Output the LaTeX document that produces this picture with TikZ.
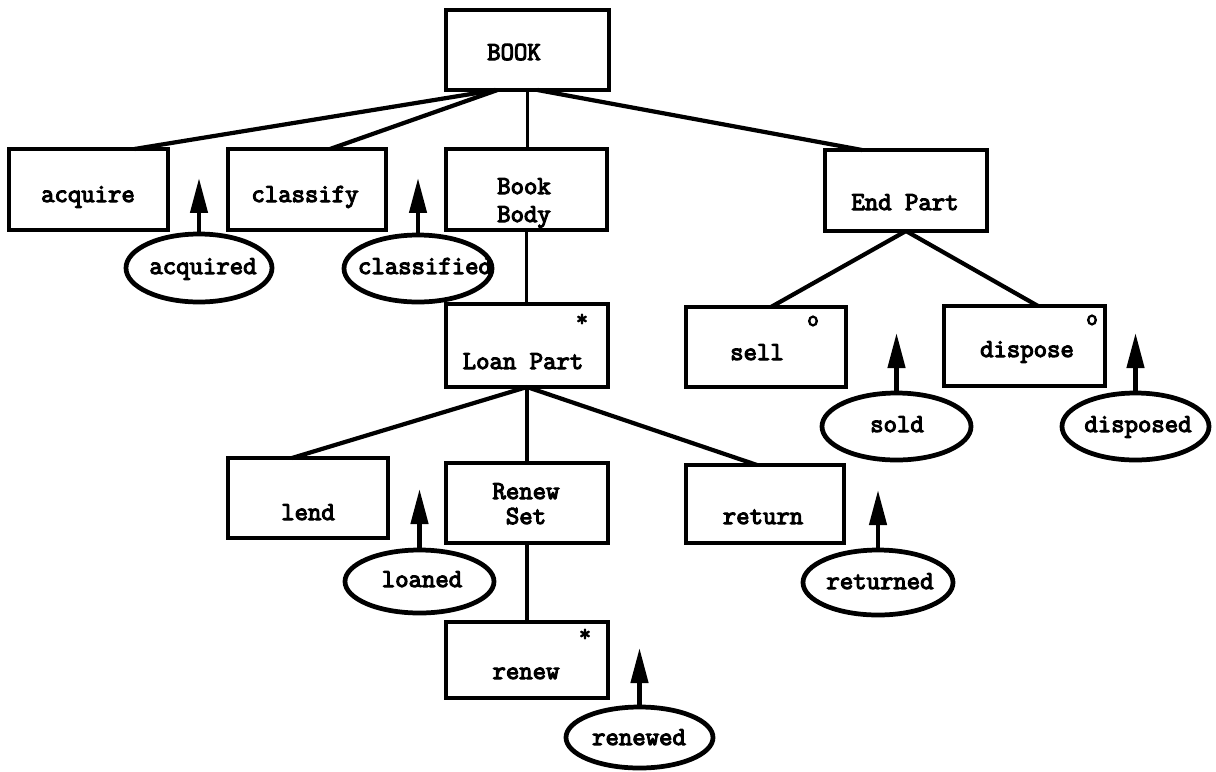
\documentclass[tikz,border=0pt]{standalone}
\usepackage{fontspec}
\setmonofont{Latin Modern Mono}[AutoFakeBold=4.2]
\usetikzlibrary{arrows.meta,calc,shapes.geometric}
\begin{document}
\begin{tikzpicture}[x=0.02cm,y=-0.02cm,
  font=\ttfamily\bfseries\fontsize{14.8}{16}\selectfont,
  box/.style 2 args={draw, line width=1.9pt, inner sep=0pt, outer sep=0pt,
    minimum width=#1*0.02cm, minimum height=#2*0.02cm},
  event/.style 2 args={draw, ellipse, line width=2.7pt, inner sep=0pt, outer sep=0pt,
    minimum width=#1*0.02cm, minimum height=#2*0.02cm},
  lbl/.style={anchor=base, inner sep=0pt},
  cornermark/.style={inner sep=0pt, font=\ttfamily\bfseries\fontsize{13}{13}\selectfont},
  link/.style={line width=2.4pt},
  vlink/.style={line width=1.8pt},
  evarrow/.style={line width=2.5pt, -{Triangle[length=0.7cm, width=0.34cm]}}
]
\useasboundingbox (0,0) rectangle (1216,771);

% structure boxes
\node[box={163}{80}] (book)     at (527.5,50)  {};
\node[box={159}{81}] (acquire)  at (88.5,189.5) {};
\node[box={158}{81}] (classify) at (307,189.5) {};
\node[box={161}{81}] (bookbody) at (526.5,189.5) {};
\node[box={162}{81}] (endpart)  at (906,190.5) {};
\node[box={162}{83}] (loanpart) at (527,345.5) {};
\node[box={160}{80}] (sell)     at (766,347)   {};
\node[box={161}{80}] (dispose)  at (1024.5,346) {};
\node[box={160}{80}] (lend)     at (308,498)   {};
\node[box={162}{80}] (renewset) at (527,503)   {};
\node[box={158}{78}] (return)   at (765,504)   {};
\node[box={162}{76}] (renew)    at (527,660)   {};

% box labels
\node[lbl] (tbook)     at (514,60)  {BOOK};
\node[lbl] (tacquire)  at (88,202)  {acquire};
\node[lbl] (tclassify) at (305,202) {classify};
\node[lbl] (tbook2)    at (524,194) {Book};
\node[lbl] (tbody)     at (524,222) {Body};
\node[lbl] (tendpart)  at (905,210) {End Part};
\node[lbl] (tloanpart) at (523,369) {Loan Part};
\node[lbl] (tsell)     at (757,360) {sell};
\node[lbl] (tdispose)  at (1027,357) {dispose};
\node[lbl] (tlend)     at (308,520) {lend};
\node[lbl] (trenew1)   at (526,499) {Renew};
\node[lbl] (tset)      at (526,524) {Set};
\node[lbl] (treturn)   at (763,524) {return};
\node[lbl] (trenew)    at (526,679) {renew};

% corner marks
\node[cornermark] (mloan)  at (582,320)  {*};
\node[cornermark] (mrenew) at (585,635)  {*};
\node[cornermark] (msell)  at (813,321)  {o};
\node[cornermark] (mdisp)  at (1092,320) {o};

% tree connectors
\draw[link]  ($(book.south)+(-32,0)$) -- ($(acquire.north)+(46,0)$);
\draw[link]  ($(book.south)+(-30,0)$) -- ($(classify.north)+(23,0)$);
\draw[vlink] (book.south) -- (book.south |- bookbody.north);
\draw[link]  ($(book.south)+(10,0)$) -- ($(endpart.north)+(-44,0)$);
\draw[vlink] (bookbody.south) -- (bookbody.south |- loanpart.north);
\draw[link]  (loanpart.south) -- ($(lend.north)+(-16,0)$);
\draw[vlink] (loanpart.south) -- (loanpart.south |- renewset.north);
\draw[link]  (loanpart.south) -- ($(return.north)+(-8,0)$);
\draw[link]  (endpart.south) -- ($(sell.north)+(5,0)$);
\draw[link]  (endpart.south) -- ($(dispose.north)+(13.5,0)$);
\draw[vlink] (renewset.south) -- (renewset.south |- renew.north);

% events
\node[event={146}{68}] (acquired)   at (199,268)     {};
\node[event={148}{67}] (classified) at (418,268.5)   {};
\node[event={149}{67}] (sold)       at (896.5,426.5) {};
\node[event={147}{67}] (disposed)   at (1135.5,426.5) {};
\node[event={149}{63}] (loaned)     at (419.5,581.5) {};
\node[event={150}{65}] (returned)   at (878,582.5)   {};
\node[event={147}{61}] (renewed)    at (639.5,737.5) {};

\node[lbl] (tacquired)   at (203,274)  {acquired};
\node[lbl] (tclassified) at (425,274)  {classified};
\node[lbl] (tsold)       at (897,432)  {sold};
\node[lbl] (tdisposed)   at (1138,432) {disposed};
\node[lbl] (tloaned)     at (422,587)  {loaned};
\node[lbl] (treturned)   at (880,589)  {returned};
\node[lbl] (trenewed)    at (639,745)  {renewed};

% event arrows
\coordinate (acquiredtip)   at ($(acquired.north)+(0,-56)$);
\coordinate (classifiedtip) at ($(classified.north)+(0,-57)$);
\coordinate (soldtip)       at ($(sold.north)+(0,-60)$);
\coordinate (disposedtip)   at ($(disposed.north)+(0,-60)$);
\coordinate (loanedtip)     at ($(loaned.north)+(0,-61)$);
\coordinate (returnedtip)   at ($(returned.north)+(0,-60)$);
\coordinate (renewedtip)    at ($(renewed.north)+(0,-59)$);
\draw[evarrow] (acquired.north)   -- (acquiredtip);
\draw[evarrow] (classified.north) -- (classifiedtip);
\draw[evarrow] (sold.north)       -- (soldtip);
\draw[evarrow] (disposed.north)   -- (disposedtip);
\draw[evarrow] (loaned.north)     -- (loanedtip);
\draw[evarrow] (returned.north)   -- (returnedtip);
\draw[evarrow] (renewed.north)    -- (renewedtip);
\end{tikzpicture}
\end{document}
